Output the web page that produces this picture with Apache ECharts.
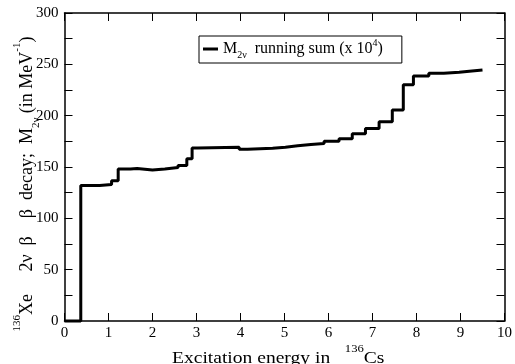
<!DOCTYPE html>
<html>
<head>
<meta charset="utf-8">
<script src="https://cdn.jsdelivr.net/npm/echarts@6/dist/echarts.min.js"></script>
<style>
  html, body { margin: 0; padding: 0; background: #fff; }
  #chart { width: 515px; height: 364px; }
</style>
</head>
<body>
<div id="chart"></div>
<script>
// Excitation energies (MeV) where the running sum steps up, and the sum from that energy on
const energy = [0, 0.37, 0.80, 1.07, 1.22, 1.50, 1.65, 2.00, 2.28, 2.58, 2.78, 2.90, 3.03,
  3.97, 4.16, 4.73, 5.02, 5.30, 5.60, 5.90, 6.24, 6.54, 6.84, 7.15, 7.45, 7.70, 7.93,
  8.28, 8.62, 8.97, 9.26, 9.50];
const runningSum = [0, 132, 133, 136.5, 148, 148.5, 147, 148, 149.5, 151.5, 158, 168.5, 169.3,
  167.2, 168.2, 169.2, 170.8, 172, 173, 175, 177.5, 182.5, 187.5, 194, 205.5, 230, 238.6,
  241.2, 242.3, 243.5, 244.5, 244.5];

const xTicks = [0, 1, 2, 3, 4, 5, 6, 7, 8, 9, 10];
const yTicks = [0, 50, 100, 150, 200, 250, 300];

const FONT = 'Liberation Serif';
const black = '#000';

const chart = echarts.init(document.getElementById('chart'), null, { renderer: 'canvas' });

function axisBase(pos, ticks, showLabel, minor) {
  return {
    type: 'value',
    position: pos,
    min: ticks[0],
    max: ticks[ticks.length - 1],
    interval: ticks[1] - ticks[0],
    axisLine: { show: true, onZero: false, lineStyle: { color: black, width: 1.5 } },
    axisTick: { show: true, inside: true, length: 8, lineStyle: { color: black, width: 1 } },
    minorTick: { show: minor, splitNumber: 2, length: 8, lineStyle: { color: black, width: 1 } },
    axisLabel: { show: showLabel, color: black, fontFamily: FONT, fontSize: 15, margin: 6 },
    splitLine: { show: false },
    minorSplitLine: { show: false }
  };
}

const xBottom = axisBase('bottom', xTicks, true, false);
xBottom.axisLabel.margin = 5;
const xTop = axisBase('top', xTicks, false, false);
const yLeft = axisBase('left', yTicks, true, true);
const yRight = axisBase('right', yTicks, false, true);

// rich-text styles: legend text (small offsets) and axis titles (taller scripts)
const legendRich = {
  t: { fontFamily: FONT, fontSize: 16, color: black, lineHeight: 22 },
  sub: { fontFamily: FONT, fontSize: 10, color: black, lineHeight: 10, verticalAlign: 'bottom' },
  sup: { fontFamily: FONT, fontSize: 10, color: black, lineHeight: 10, verticalAlign: 'top' }
};
const xTitleRich = {
  t: { fontFamily: FONT, fontSize: 17, color: black, lineHeight: 30 },
  sup: { fontFamily: FONT, fontSize: 11, color: black, lineHeight: 10, verticalAlign: 'top' }
};
const yTitleRich = {
  t: { fontFamily: FONT, fontSize: 18, color: black, lineHeight: 30 },
  sub: { fontFamily: FONT, fontSize: 11, color: black, lineHeight: 18, verticalAlign: 'bottom' },
  sup: { fontFamily: FONT, fontSize: 11, color: black, lineHeight: 10, verticalAlign: 'top' }
};

chart.setOption({
  animation: false,
  backgroundColor: '#fff',
  grid: { left: 64.5, right: 9, top: 13, bottom: 43, containLabel: false },
  xAxis: [xBottom, xTop],
  yAxis: [yLeft, yRight],
  legend: {
    show: true,
    left: 199,
    top: 36,
    orient: 'horizontal',
    backgroundColor: '#fff',
    borderColor: black,
    borderWidth: 1,
    borderRadius: 0,
    padding: [2, 19, 3, 4],
    itemWidth: 15,
    itemHeight: 3,
    itemGap: 0,
    icon: 'rect',
    formatter: function () {
      return '{t|M}{sub|2ν}{t|  running sum (x 10}{sup|4}{t|)}';
    },
    textStyle: { rich: legendRich, padding: [0, 0, 0, 0] },
    data: [{ name: 'M2v running sum', itemStyle: { color: black } }]
  },
  graphic: [
    {
      type: 'text',
      x: 172,
      y: 359,
      scaleX: 1.15,
      style: {
        text: '{t|Excitation energy in}{t|   }{sup|136}{t|Cs}',
        rich: xTitleRich,
        align: 'left',
        verticalAlign: 'middle',
        fill: black
      }
    },
    {
      type: 'text',
      x: 27,
      y: 184,
      rotation: Math.PI / 2,
      style: {
        text: '{sup|136}{t|Xe     2ν  β    β  decay;  M}{sub|2ν}{t| (in MeV}{sup|-1}{t|)}',
        rich: yTitleRich,
        align: 'center',
        verticalAlign: 'middle',
        fill: black
      }
    }
  ],
  series: [{
    name: 'M2v running sum',
    type: 'line',
    step: 'end',
    clip: false,
    xAxisIndex: 0,
    yAxisIndex: 0,
    showSymbol: false,
    symbol: 'none',
    lineStyle: { color: black, width: 3 },
    itemStyle: { color: black },
    data: energy.map((e, i) => [e, runningSum[i]])
  }]
});
</script>
</body>
</html>
